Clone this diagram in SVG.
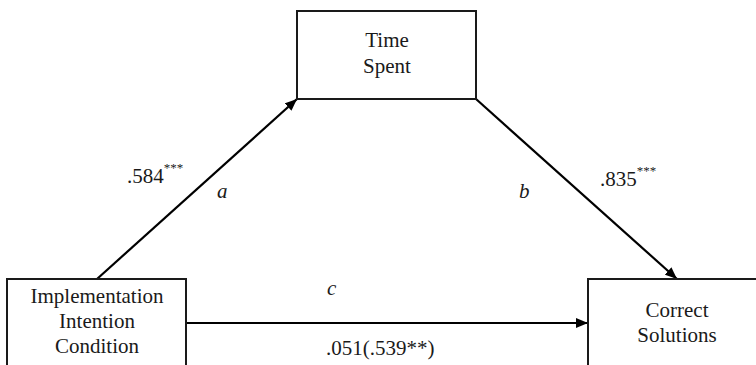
<svg xmlns="http://www.w3.org/2000/svg" width="756" height="365" viewBox="0 0 756 365">
<style>
.box{fill:#fff;stroke:#1a1a1a;stroke-width:2}
text{font-family:'Liberation Serif','Times New Roman',Times,'DejaVu Serif',serif;font-size:21px;fill:#1a1a1a}
.m{text-anchor:middle}
.i{font-style:italic}
.sup{font-size:13px}
.ln{stroke:#000;stroke-width:2.2;fill:none;marker-end:url(#ah)}
</style>
<defs>
<marker id="ah" viewBox="0 0 12 10" refX="12" refY="5" markerWidth="12" markerHeight="10" markerUnits="userSpaceOnUse" orient="auto">
<path d="M0,0 L12,5 L0,10 Z" fill="#000"/>
</marker>
</defs>
<rect width="756" height="365" fill="#fff"/>
<g id="connectors">
<line class="ln" x1="97" y1="279" x2="297" y2="99"/>
<line class="ln" x1="476" y1="99" x2="677" y2="279"/>
<line class="ln" x1="186" y1="323" x2="588" y2="323"/>
</g>
<g id="time-spent">
<rect class="box" x="297" y="11" width="179" height="88"/>
<text class="m" x="387" y="47">Time</text>
<text class="m" x="387" y="73">Spent</text>
</g>
<g id="implementation">
<rect class="box" x="7" y="279" width="179" height="95"/>
<text class="m" x="97" y="303">Implementation</text>
<text class="m" x="97" y="328">Intention</text>
<text class="m" x="97" y="353">Condition</text>
</g>
<g id="correct-solutions">
<rect class="box" x="588" y="279" width="180" height="95"/>
<text class="m" x="677" y="317">Correct</text>
<text class="m" x="677" y="342">Solutions</text>
</g>
<g id="labels">
<text x="127" y="183">.584<tspan class="sup" dy="-11">***</tspan></text>
<text class="i" x="217" y="198">a</text>
<text class="i" x="519" y="198">b</text>
<text x="600" y="186">.835<tspan class="sup" dy="-11">***</tspan></text>
<text class="i" x="327" y="295">c</text>
<text x="326" y="355">.051(.539**)</text>
</g>
</svg>
